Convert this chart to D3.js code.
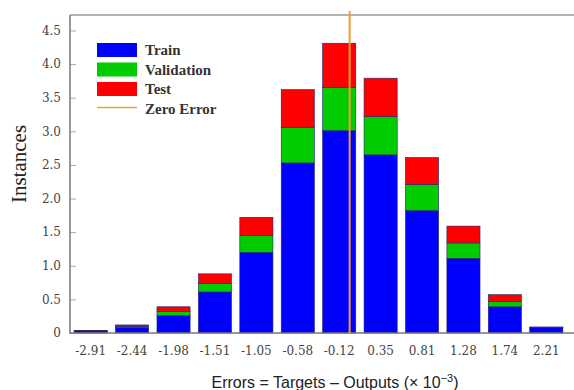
<!DOCTYPE html>
<html>
<head>
<meta charset="utf-8">
<script src="https://cdn.jsdelivr.net/npm/d3@7"></script>
<style>
  html, body { margin: 0; padding: 0; background: #fff; }
  svg { display: block; }
</style>
</head>
<body>
<svg id="chart" width="574" height="390"></svg>
<script>
// Error histogram: bin centres (× 10^-3) and stacked instance counts per data split
const binCenters = ["-2.91", "-2.44", "-1.98", "-1.51", "-1.05", "-0.58", "-0.12", "0.35", "0.81", "1.28", "1.74", "2.21"];
const trainValues = [0.03, 0.08, 0.26, 0.61, 1.20, 2.53, 3.01, 2.65, 1.82, 1.11, 0.39, 0.08];
const validationValues = [0.005, 0.02, 0.06, 0.13, 0.25, 0.53, 0.64, 0.57, 0.39, 0.23, 0.08, 0.005];
const testValues = [0.005, 0.02, 0.07, 0.14, 0.27, 0.56, 0.66, 0.57, 0.40, 0.25, 0.10, 0.005];
const yTicks = [0, 0.5, 1.0, 1.5, 2.0, 2.5, 3.0, 3.5, 4.0, 4.5];
const yTickLabels = ["0", "0.5", "1.0", "1.5", "2.0", "2.5", "3.0", "3.5", "4.0", "4.5"];
const seriesNames = ["Train", "Validation", "Test"];
const seriesColors = ["#0000ff", "#00cc00", "#ff0000"];
const zeroErrorValue = 0;
const zeroErrorLabel = "Zero Error";

const svg = d3.select("#chart");
const plotLeft = 70, plotRight = 567, plotTop = 15, plotBottom = 333;
const serif = "Liberation Serif, serif";
const tickFont = "DejaVu Serif, serif";

const x = d3.scaleBand().domain(binCenters).range([plotLeft, plotRight]).paddingInner(0.2).paddingOuter(0.1);
const y = d3.scaleLinear().domain([0, 4.73]).range([plotBottom, plotTop]);

// Linear scale mapping error value to pixel, anchored on the first and last bin centres
const xNum = d3.scaleLinear()
  .domain([+binCenters[0], +binCenters[binCenters.length - 1]])
  .range([x(binCenters[0]) + x.bandwidth() / 2, x(binCenters[binCenters.length - 1]) + x.bandwidth() / 2]);

const rows = binCenters.map((c, i) => ({ bin: c, Train: trainValues[i], Validation: validationValues[i], Test: testValues[i] }));
const stacked = d3.stack().keys(seriesNames)(rows);

// Frame: top border
svg.append("line").attr("x1", plotLeft).attr("x2", 574).attr("y1", plotTop).attr("y2", plotTop)
  .attr("stroke", "#999").attr("stroke-width", 1.5);

// Stacked bars
svg.append("g").selectAll("g").data(stacked).join("g")
  .attr("fill", (d, i) => seriesColors[i])
  .selectAll("rect").data(d => d).join("rect")
  .attr("x", d => x(d.data.bin))
  .attr("width", x.bandwidth())
  .attr("y", d => y(d[1]))
  .attr("height", d => Math.max(0, y(d[0]) - y(d[1])))
  .attr("stroke", "#22226a")
  .attr("stroke-width", 0.6);

// Y axis with inward ticks
const yAxis = d3.axisRight(y).tickValues(yTicks).tickFormat((d, i) => yTickLabels[i]).tickSize(6);
const gy = svg.append("g").attr("transform", `translate(${plotLeft},0)`).call(yAxis);
gy.select(".domain").remove();
gy.selectAll(".tick line").attr("stroke", "#aaa");
gy.selectAll(".tick text")
  .attr("text-anchor", "end").attr("x", -9)
  .attr("fill", "#444").attr("font-family", tickFont)
  .attr("font-size", 12);
svg.append("line").attr("x1", plotLeft).attr("x2", plotLeft).attr("y1", plotTop).attr("y2", plotBottom + 1)
  .attr("stroke", "#777").attr("stroke-width", 1.5);

// X axis
const xAxis = d3.axisBottom(x).tickSize(0).tickPadding(13);
const gx = svg.append("g").attr("transform", `translate(0,${plotBottom})`).call(xAxis);
gx.select(".domain").remove();
gx.selectAll(".tick text")
  .attr("fill", "#444").attr("font-family", tickFont)
  .attr("font-size", 12);
svg.append("line").attr("x1", plotLeft).attr("x2", 574).attr("y1", plotBottom).attr("y2", plotBottom)
  .attr("stroke", "#777").attr("stroke-width", 1.5);

// Zero error line
svg.append("line")
  .attr("x1", xNum(zeroErrorValue)).attr("x2", xNum(zeroErrorValue))
  .attr("y1", 11).attr("y2", plotBottom)
  .attr("stroke", "#f0a030").attr("stroke-width", 2);

// Axis titles
svg.append("text").attr("transform", "translate(26,164) rotate(-90)")
  .attr("text-anchor", "middle").attr("font-family", serif)
  .attr("font-size", 21).attr("fill", "#222").text("Instances");

const xt = svg.append("text").attr("x", 335).attr("y", 388)
  .attr("text-anchor", "middle").attr("font-family", "Liberation Sans, Arial, sans-serif")
  .attr("font-size", 16).attr("fill", "#222");
xt.append("tspan").text("Errors = Targets \u2013 Outputs (\u00d7 10");
xt.append("tspan").attr("dy", -6).attr("font-size", 11).text("\u22123");
xt.append("tspan").attr("dy", 6).text(")");

// Legend
const legend = svg.append("g").attr("transform", "translate(97,43)");
seriesNames.forEach((name, i) => {
  const g = legend.append("g").attr("transform", `translate(0,${i * 19.5})`);
  g.append("rect").attr("width", 40).attr("height", 14).attr("fill", seriesColors[i]);
  g.append("text").attr("x", 48).attr("y", 12)
    .attr("font-family", serif).attr("font-size", 15).attr("font-weight", "bold")
    .attr("fill", "#333").text(name);
});
const lz = legend.append("g").attr("transform", "translate(0,58.5)");
lz.append("line").attr("x1", 0).attr("x2", 40).attr("y1", 6).attr("y2", 6)
  .attr("stroke", "#f0a030").attr("stroke-width", 1.5);
lz.append("text").attr("x", 48).attr("y", 12)
  .attr("font-family", serif).attr("font-size", 15).attr("font-weight", "bold")
  .attr("fill", "#333").text(zeroErrorLabel);
</script>
</body>
</html>
